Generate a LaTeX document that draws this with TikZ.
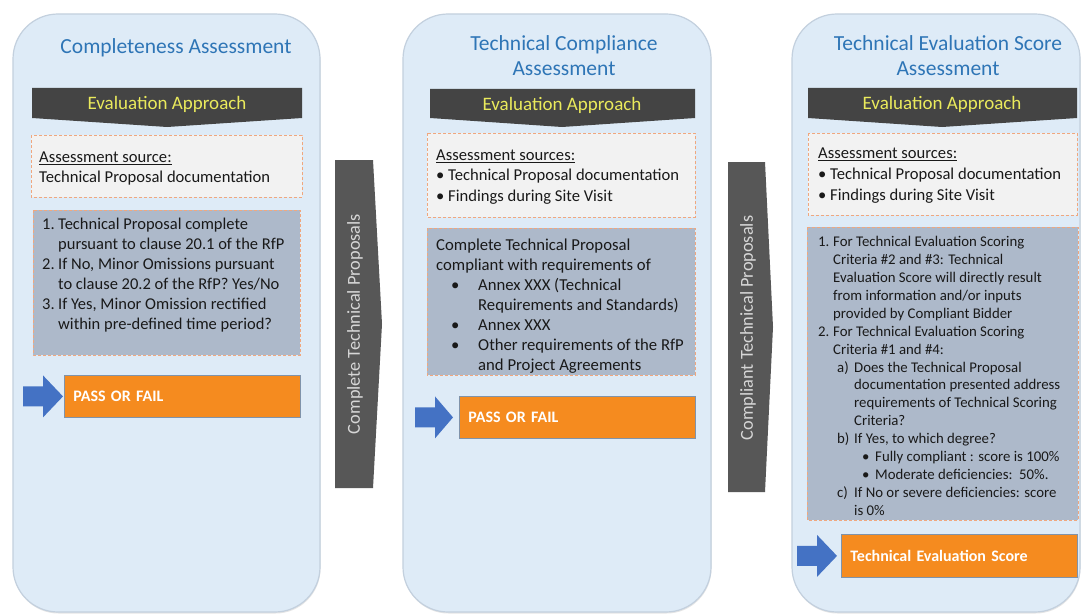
\documentclass[tikz,border=0pt]{standalone}
\usepackage{fontspec}
\setmainfont{Carlito}
\usepackage{tikz}
\usetikzlibrary{calc}
\usetikzlibrary{shadows}

\definecolor{panelfill}{HTML}{DEEBF7}
\definecolor{paneledge}{HTML}{C3D0DE}
\definecolor{titleblue}{HTML}{2E75B6}
\definecolor{bannergray}{HTML}{444444}
\definecolor{bannertext}{HTML}{EAEA5C}
\definecolor{chevgray}{HTML}{575757}
\definecolor{chevtextgray}{HTML}{D6D6D6}
\definecolor{srcfill}{HTML}{F2F2F2}
\definecolor{critfill}{HTML}{ADB9CA}
\definecolor{dashorange}{HTML}{F0A77E}
\definecolor{resorange}{HTML}{F58B1F}
\definecolor{resedge}{HTML}{8093AA}
\definecolor{arrowblue}{HTML}{4472C4}

\newcommand{\numlbl}[2][16pt]{\makebox[#1][l]{#2}}
\newcommand{\hangsp}[1]{\hspace*{#1}}

\begin{document}
\begin{tikzpicture}[x=1pt,y=-1pt,
  panel/.style={fill=panelfill,draw=paneledge,line width=1.2pt,rounded corners=45pt,
    drop shadow={opacity=.2,shadow xshift=.5pt,shadow yshift=-1.5pt}},
  paneltitle/.style={text=titleblue,align=center,inner sep=0pt,font=\fontsize{21.5}{25}\selectfont},
  banner/.style={fill=bannergray},
  bannerlabel/.style={text=bannertext,inner sep=0pt,font=\fontsize{19}{22}\selectfont},
  srcbox/.style={fill=srcfill,draw=dashorange,line width=.8pt,dash pattern=on 3pt off 2pt},
  critbox/.style={fill=critfill,draw=dashorange,line width=.8pt,dash pattern=on 3pt off 2pt},
  boxtext/.style={anchor=north west,inner sep=0pt,align=left,text=black!90},
  resultbox/.style={fill=resorange,draw=resedge,line width=.8pt,anchor=north west,
    text=white,inner xsep=9pt,align=left,font=\bfseries\fontsize{16}{18}\selectfont},
  fatarrow/.style={fill=arrowblue},
  chevron/.style={fill=chevgray},
  chevtext/.style={rotate=90,text=chevtextgray,inner sep=0pt,font=\fontsize{18.3}{20}\selectfont}]

  \useasboundingbox[fill=white] (0,0) rectangle (1083,615);

  % panels
  \draw[panel] (13,14) rectangle (320,612);
  \draw[panel] (403,14) rectangle (711,612);
  \draw[panel] (792,14) rectangle (1080,612);

  % titles
  \node[paneltitle] (title1) at (176,48) {Completeness Assessment};
  \node[paneltitle] (title2) at (564,55.5) {Technical Compliance\\Assessment};
  \node[paneltitle] (title3) at (948,55.5) {Technical Evaluation Score\\Assessment};

  % evaluation approach banners
  \fill[banner] (32,88) -- (302,88) -- (302,118) -- (167,127) -- (32,118) -- cycle;
  \fill[banner] (430,89) -- (695,89) -- (695,118) -- (562,127) -- (430,118) -- cycle;
  \fill[banner] (808,88) -- (1077,88) -- (1077,118) -- (942,127) -- (808,118) -- cycle;
  \node[bannerlabel] (appr1) at (167,104) {Evaluation Approach};
  \node[bannerlabel] (appr2) at (562,105) {Evaluation Approach};
  \node[bannerlabel] (appr3) at (942,104) {Evaluation Approach};

  % assessment sources
  \draw[srcbox] (31,135) rectangle (302,197);
  \draw[srcbox] (427,133) rectangle (695,217);
  \draw[srcbox] (808,133) rectangle (1077,215);
  \node[boxtext,font=\fontsize{16.6}{20}\selectfont] (src1) at (39,151.6)
    {\underline{Assessment source:}\\Technical Proposal documentation};
  \node[boxtext,font=\fontsize{16.6}{20.5}\selectfont] (src2) at (436,149.6)
    {\underline{Assessment sources:}\\
     \numlbl[12pt]{\textbullet}Technical Proposal documentation\\
     \numlbl[12pt]{\textbullet}Findings during Site Visit};
  \node[boxtext,font=\fontsize{16.6}{21}\selectfont] (src3) at (818,147.6)
    {\underline{Assessment sources:}\\
     \numlbl[12pt]{\textbullet}Technical Proposal documentation\\
     \numlbl[12pt]{\textbullet}Findings during Site Visit};

  % criteria
  \draw[critbox] (33,210) rectangle (300,355);
  \draw[critbox] (427,228) rectangle (695,375);
  \draw[critbox] (807,227) rectangle (1078,520);
  \node[boxtext,font=\fontsize{16.5}{20}\selectfont] (crit1) at (42,217.5) {%
    \numlbl{1.}Technical Proposal complete\\
    \hangsp{16pt}pursuant to clause 20.1 of the RfP\\
    \numlbl{2.}If No, Minor Omissions pursuant\\
    \hangsp{16pt}to clause 20.2 of the RfP? Yes/No\\
    \numlbl{3.}If Yes, Minor Omission rectified\\
    \hangsp{16pt}within pre-defined time period?};
  \node[boxtext,font=\fontsize{16.7}{20}\selectfont] (crit2) at (436,238.6) {%
    Complete Technical Proposal\\
    compliant with requirements of\\
    \hangsp{15pt}\numlbl[27pt]{\textbullet}Annex XXX (Technical\\
    \hangsp{42pt}Requirements and Standards)\\
    \hangsp{15pt}\numlbl[27pt]{\textbullet}Annex XXX\\
    \hangsp{15pt}\numlbl[27pt]{\textbullet}Other requirements of the RfP\\
    \hangsp{42pt}and Project Agreements};
  \node[boxtext,font=\fontsize{14.8}{17.9}\selectfont] (crit3) at (818,236.3) {%
    \numlbl[15pt]{1.}For Technical Evaluation Scoring\\
    \hangsp{15pt}Criteria \#2 and \#3: Technical\\
    \hangsp{15pt}Evaluation Score will directly result\\
    \hangsp{15pt}from information and/or inputs\\
    \hangsp{15pt}provided by Compliant Bidder\\
    \numlbl[15pt]{2.}For Technical Evaluation Scoring\\
    \hangsp{15pt}Criteria \#1 and \#4:\\
    \hangsp{19pt}\numlbl[17pt]{a)}Does the Technical Proposal\\
    \hangsp{36pt}documentation presented address\\
    \hangsp{36pt}requirements of Technical Scoring\\
    \hangsp{36pt}Criteria?\\
    \hangsp{19pt}\numlbl[17pt]{b)}If Yes, to which degree?\\
    \hangsp{44pt}\numlbl[13pt]{\textbullet}Fully compliant : score is 100\%\\
    \hangsp{44pt}\numlbl[13pt]{\textbullet}Moderate deficiencies:~~50\%.\\
    \hangsp{19pt}\numlbl[17pt]{c)}If No or severe deficiencies: score\\
    \hangsp{36pt}is 0\%};

  % results
  \node[resultbox,minimum height=42,text width=218pt] (res1) at (64,375) {PASS OR FAIL};
  \node[resultbox,minimum height=42,text width=218pt] (res2) at (459,396) {PASS OR FAIL};
  \node[resultbox,minimum height=43,text width=218pt] (res3) at (841,534) {Technical Evaluation Score};
  \fill[fatarrow] ($(res1.west)+(-1,0)$) -- ++(-20,-21) -- ++(0,11) -- ++(-20,0)
    -- ++(0,20) -- ++(20,0) -- ++(0,11) -- cycle;
  \fill[fatarrow] ($(res2.west)+(-6,0)$) -- ++(-18,-21) -- ++(0,11) -- ++(-20,0)
    -- ++(0,20) -- ++(20,0) -- ++(0,11) -- cycle;
  \fill[fatarrow] ($(res3.west)+(-4,0)$) -- ++(-20,-21) -- ++(0,11) -- ++(-20,0)
    -- ++(0,20) -- ++(20,0) -- ++(0,11) -- cycle;

  % passing proposals
  \fill[chevron] (335,160) -- (373,160) -- (382,324) -- (373,488) -- (335,488) -- cycle;
  \fill[chevron] (728,162) -- (765,162) -- (773,327) -- (765,492) -- (728,492) -- cycle;
  \node[chevtext] (pass1) at (355,324) {Complete Technical Proposals};
  \node[chevtext] (pass2) at (748,328) {Compliant Technical Proposals};
\end{tikzpicture}
\end{document}
